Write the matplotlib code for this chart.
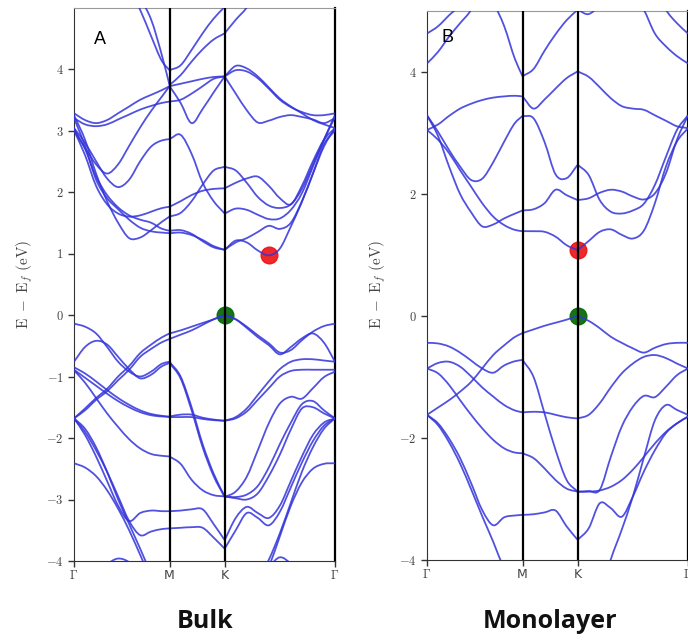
import numpy as np
import matplotlib
matplotlib.use("Agg")
import matplotlib.pyplot as plt
from matplotlib.path import Path
from matplotlib.patches import PathPatch

plt.rcParams["mathtext.fontset"] = "cm"

# k-path sampling along Gamma - M - K - Gamma (units of 2pi/a)
K_M = 0.866
K_K = 1.366
K_END = 2.366
k_path = [0.0, 0.1, 0.2, 0.3, 0.4, 0.5, 0.6, 0.7, 0.8, 0.866,
          0.966, 1.066, 1.166, 1.266, 1.366,
          1.466, 1.566, 1.666, 1.766, 1.866, 1.966, 2.066, 2.166, 2.266, 2.366]
k_ticks = [0.0, K_M, K_K, K_END]
k_labels = [r"$\Gamma$", "M", "K", r"$\Gamma$"]

# bulk bands (eV, relative to Ef)
bulk_conduction = [
    [6.0, 6.0, 6.0, 5.9, 5.6, 5.3, 4.96, 4.53, 4.12, 3.98,
     4.06, 4.31, 4.58, 4.82, 5.01,
     5.2, 5.5, 6.0, 6.0, 6.0, 6.0, 6.0, 6.0, 6.0, 6.0],
    [6.0, 6.0, 6.0, 5.9, 5.7, 5.45, 5.15, 4.80, 4.20, 3.74,
     3.90, 4.12, 4.32, 4.48, 4.58,
     4.80, 5.0, 5.3, 5.6, 6.0, 6.0, 6.0, 6.0, 6.0, 6.0],
    [3.28, 3.17, 3.12, 3.17, 3.28, 3.39, 3.50, 3.58, 3.66, 3.72,
     3.76, 3.80, 3.84, 3.87, 3.88,
     4.05, 4.01, 3.88, 3.70, 3.52, 3.39, 3.28, 3.17, 3.10, 3.04],
    [3.00, 2.72, 2.45, 2.30, 2.45, 2.75, 3.05, 3.32, 3.56, 3.72,
     3.45, 3.12, 3.35, 3.62, 3.88,
     3.60, 3.33, 3.13, 3.16, 3.22, 3.25, 3.22, 3.18, 3.12, 3.20],
    [3.20, 3.10, 3.07, 3.10, 3.18, 3.26, 3.34, 3.40, 3.45, 3.47,
     3.50, 3.60, 3.72, 3.84, 3.88,
     3.98, 3.96, 3.85, 3.68, 3.50, 3.38, 3.30, 3.25, 3.25, 3.28],
    [3.04, 2.80, 2.50, 2.22, 2.08, 2.20, 2.50, 2.74, 2.84, 2.86,
     2.93, 2.62, 2.15, 1.85, 1.65,
     1.73, 1.71, 1.63, 1.56, 1.57, 1.71, 1.98, 2.41, 2.85, 3.25],
    [3.25, 2.85, 2.30, 1.85, 1.50, 1.25, 1.26, 1.38, 1.52, 1.60,
     1.66, 1.85, 2.12, 2.35, 2.41,
     2.35, 2.15, 1.92, 1.78, 1.74, 1.80, 2.05, 2.45, 2.85, 3.22],
    [3.03, 2.70, 2.25, 1.95, 1.75, 1.62, 1.55, 1.50, 1.40, 1.37,
     1.38, 1.32, 1.20, 1.10, 1.06,
     1.21, 1.18, 1.05, 0.97, 1.08, 1.44, 1.84, 2.30, 2.74, 3.04],
    [3.00, 2.60, 2.10, 1.80, 1.65, 1.60, 1.62, 1.68, 1.74, 1.76,
     1.85, 1.95, 2.02, 2.05, 2.06,
     2.15, 2.22, 2.25, 2.10, 1.90, 1.80, 2.10, 2.50, 2.85, 3.04],
    [3.20, 2.75, 2.20, 1.90, 1.72, 1.55, 1.42, 1.36, 1.34, 1.33,
     1.34, 1.30, 1.22, 1.12, 1.06,
     1.18, 1.25, 1.35, 1.45, 1.40, 1.50, 1.85, 2.30, 2.78, 3.00],
]
bulk_valence = [
    [-0.14, -0.19, -0.30, -0.52, -0.76, -0.92, -1.00, -0.92, -0.79, -0.76,
     -1.00, -1.50, -2.10, -2.58, -2.95,
     -2.98, -3.00, -2.90, -2.62, -2.27, -1.86, -1.52, -1.50, -1.60, -1.68],
    [-0.76, -0.52, -0.42, -0.48, -0.68, -0.88, -1.03, -0.97, -0.83, -0.78,
     -1.03, -1.55, -2.15, -2.62, -2.96,
     -2.87, -2.63, -2.20, -1.76, -1.44, -1.33, -1.36, -1.19, -1.01, -0.92],
    [-1.68, -1.52, -1.35, -1.20, -1.00, -0.83, -0.62, -0.48, -0.36, -0.30,
     -0.25, -0.19, -0.13, -0.07, 0.0,
     -0.07, -0.19, -0.33, -0.46, -0.61, -0.57, -0.41, -0.27, -0.18, -0.14],
    [-1.68, -1.55, -1.38, -1.24, -1.06, -0.89, -0.68, -0.55, -0.44, -0.39,
     -0.32, -0.25, -0.16, -0.07, 0.0,
     -0.07, -0.21, -0.36, -0.49, -0.64, -0.52, -0.38, -0.30, -0.45, -0.76],
    [-0.89, -1.02, -1.15, -1.28, -1.40, -1.50, -1.58, -1.63, -1.65, -1.65,
     -1.62, -1.62, -1.67, -1.70, -1.72,
     -1.68, -1.57, -1.38, -1.19, -1.00, -0.91, -0.89, -0.89, -0.89, -0.89],
    [-0.85, -0.95, -1.08, -1.22, -1.35, -1.46, -1.55, -1.61, -1.64, -1.66,
     -1.66, -1.66, -1.69, -1.71, -1.72,
     -1.66, -1.52, -1.30, -1.08, -0.88, -0.76, -0.72, -0.72, -0.74, -0.76],
    [-0.90, -1.10, -1.35, -1.60, -1.82, -2.02, -2.17, -2.26, -2.29, -2.30,
     -2.42, -2.68, -2.85, -2.93, -2.95,
     -2.96, -2.92, -2.78, -2.48, -2.10, -1.75, -1.45, -1.40, -1.55, -1.68],
    [-1.68, -1.95, -2.30, -2.70, -3.10, -3.35, -3.22, -3.18, -3.19, -3.19,
     -3.18, -3.16, -3.16, -3.40, -3.66,
     -3.30, -3.12, -3.22, -3.30, -3.10, -2.70, -2.30, -1.95, -1.75, -1.68],
    [-1.68, -1.90, -2.20, -2.55, -2.95, -3.35, -3.58, -3.52, -3.48, -3.47,
     -3.46, -3.45, -3.46, -3.62, -3.80,
     -3.50, -3.22, -3.30, -3.42, -3.20, -2.80, -2.40, -2.05, -1.80, -1.68],
    [-2.41, -2.48, -2.62, -2.85, -3.15, -3.50, -3.90, -4.30, -4.60, -4.80,
     -5.0, -5.0, -5.0, -5.0, -5.0,
     -5.0, -4.8, -4.5, -4.1, -3.60, -3.10, -2.72, -2.50, -2.42, -2.41],
    [-1.68, -1.85, -2.15, -2.55, -3.00, -3.40, -3.80, -4.20, -4.50, -4.70,
     -5.0, -5.0, -5.0, -5.0, -5.0,
     -5.0, -4.6, -4.3, -3.98, -3.55, -3.05, -2.55, -2.15, -1.85, -1.68],
    [-4.6, -4.4, -4.2, -4.05, -3.96, -4.02, -4.2, -4.4, -4.6, -4.7,
     -4.8, -4.8, -4.8, -4.8, -4.8,
     -4.7, -4.5, -4.3, -4.1, -3.94, -4.05, -4.3, -4.5, -4.6, -4.6],
]

# monolayer bands (eV, relative to Ef)
mono_conduction = [
    [6.0, 6.0, 6.0, 6.0, 5.8, 5.5, 5.15, 4.75, 4.20, 3.93,
     4.05, 4.35, 4.62, 4.85, 5.02,
     4.95, 5.12, 5.5, 6.0, 6.0, 6.0, 6.0, 6.0, 6.0, 6.0],
    [4.14, 4.33, 4.58, 4.80, 5.02, 5.4, 5.7, 6.0, 6.0, 6.0,
     6.0, 6.0, 6.0, 6.0, 6.0,
     6.0, 6.0, 6.0, 6.0, 5.3, 5.02, 4.63, 4.42, 4.26, 4.14],
    [4.63, 4.75, 4.93, 5.1, 5.4, 5.8, 6.0, 6.0, 6.0, 6.0,
     6.0, 6.0, 6.0, 6.0, 6.0,
     6.0, 6.0, 6.0, 6.0, 6.0, 5.8, 5.4, 5.02, 4.80, 4.63],
    [3.05, 3.14, 3.28, 3.40, 3.48, 3.54, 3.58, 3.60, 3.61, 3.60,
     3.40, 3.55, 3.73, 3.90, 4.01,
     3.92, 3.75, 3.57, 3.44, 3.40, 3.38, 3.29, 3.20, 3.11, 3.08],
    [3.29, 3.02, 2.72, 2.45, 2.23, 2.25, 2.52, 2.86, 3.17, 3.28,
     3.24, 2.85, 2.32, 2.26, 2.48,
     2.31, 1.90, 1.71, 1.68, 1.73, 1.84, 2.15, 2.61, 3.05, 3.29],
    [3.29, 2.95, 2.45, 2.00, 1.70, 1.47, 1.50, 1.60, 1.68, 1.73,
     1.75, 1.85, 2.07, 1.98, 1.90,
     1.93, 2.02, 2.07, 2.04, 1.96, 1.91, 2.01, 2.34, 2.89, 3.29],
    [3.05, 2.89, 2.67, 2.39, 2.12, 1.85, 1.63, 1.49, 1.41, 1.39,
     1.39, 1.38, 1.30, 1.16, 1.08,
     1.23, 1.38, 1.42, 1.33, 1.27, 1.40, 1.85, 2.45, 2.86, 3.08],
]
mono_valence = [
    [-0.44, -0.45, -0.50, -0.60, -0.73, -0.86, -0.93, -0.81, -0.74, -0.72,
     -1.00, -1.60, -2.20, -2.69, -2.88,
     -2.87, -2.85, -2.31, -1.81, -1.49, -1.31, -1.33, -1.16, -0.97, -0.86],
    [-1.62, -1.50, -1.38, -1.24, -1.08, -0.86, -0.64, -0.48, -0.34, -0.28,
     -0.22, -0.16, -0.11, -0.06, 0.0,
     -0.08, -0.20, -0.34, -0.44, -0.53, -0.60, -0.52, -0.46, -0.44, -0.44],
    [-0.86, -0.77, -0.75, -0.83, -0.99, -1.17, -1.32, -1.46, -1.55, -1.58,
     -1.57, -1.58, -1.62, -1.66, -1.68,
     -1.62, -1.43, -1.17, -0.94, -0.78, -0.67, -0.64, -0.69, -0.78, -0.86],
    [-0.86, -0.94, -1.13, -1.38, -1.62, -1.84, -2.03, -2.17, -2.24, -2.25,
     -2.33, -2.50, -2.69, -2.83, -2.88,
     -2.88, -2.86, -2.80, -2.69, -2.52, -2.31, -2.09, -1.90, -1.76, -1.65],
    [-1.62, -1.76, -2.01, -2.33, -2.74, -3.18, -3.43, -3.30, -3.27, -3.26,
     -3.25, -3.22, -3.19, -3.45, -3.67,
     -3.48, -3.07, -3.15, -3.29, -2.96, -2.55, -2.20, -1.92, -1.76, -1.65],
    [-1.62, -1.79, -2.07, -2.42, -2.84, -3.28, -3.70, -4.15, -4.50, -4.70,
     -5.0, -5.0, -5.0, -5.0, -5.0,
     -5.0, -4.6, -3.99, -3.50, -2.96, -2.32, -1.71, -1.46, -1.54, -1.62],
]

BAND_COLOR = (0.2, 0.2, 0.86)


def band_path(k, e):
    """Cubic Hermite path through the sampled energies, one piece per
    high-symmetry segment so the kinks at M and K are kept."""
    k = np.asarray(k, dtype=float)
    e = np.asarray(e, dtype=float)
    i_m = k_path.index(K_M)
    i_k = k_path.index(K_K)
    verts = [(k[0], e[0])]
    codes = [Path.MOVETO]
    for lo, hi in ((0, i_m), (i_m, i_k), (i_k, len(k) - 1)):
        ks = k[lo:hi + 1]
        es = e[lo:hi + 1]
        slope = np.gradient(es, ks)
        for i in range(len(ks) - 1):
            h = ks[i + 1] - ks[i]
            verts += [(ks[i] + h / 3, es[i] + slope[i] * h / 3),
                      (ks[i + 1] - h / 3, es[i + 1] - slope[i + 1] * h / 3),
                      (ks[i + 1], es[i + 1])]
            codes += [Path.CURVE4] * 3
    return Path(verts, codes)


def draw_bands(ax, conduction, valence, yticks, cbm_k=None):
    k = np.array(k_path)
    for band in conduction + valence:
        ax.add_patch(PathPatch(band_path(k, band), fill=False, edgecolor=BAND_COLOR,
                               lw=1.3, alpha=0.85, zorder=3))

    # band edges: CBM from the lowest conduction band, VBM at K
    cond = np.array(conduction)
    if cbm_k is None:
        low = cond.min(axis=0)
        i = int(np.argmin(low))
        cbm = (k[i], low[i])
    else:
        i = k_path.index(cbm_k)
        cbm = (cbm_k, cond[:, i].min())
    vbm_i = k_path.index(K_K)
    vbm = (K_K, np.array(valence)[:, vbm_i].max())
    ax.plot(*cbm, "o", ms=12, color="#ee1111", alpha=0.9, zorder=2)
    ax.plot(*vbm, "o", ms=12, color="#0b6a0b", alpha=0.95, zorder=2)

    for kx in (K_M, K_K):
        ax.axvline(kx, color="black", lw=1.6, zorder=4)

    ax.set_xlim(0, K_END)
    ax.set_ylim(-4, 5)
    ax.set_xticks(k_ticks)
    ax.set_xticklabels(k_labels)
    ax.set_yticks(yticks)
    ax.set_yticklabels([r"$%d$" % v if v >= 0 else r"$-%d$" % -v for v in yticks])
    ax.tick_params(axis="both", direction="out", length=4, width=1,
                   labelsize=9, labelcolor="#444444", color="#333333")
    ax.tick_params(axis="x", pad=2)
    ax.spines["top"].set_color("#999999")
    ax.spines["left"].set_color("#333333")
    ax.spines["bottom"].set_color("#333333")
    ax.spines["right"].set_color("black")
    ax.spines["right"].set_linewidth(1.6)


fig = plt.figure(figsize=(6.88, 6.36), dpi=100)
ax_bulk = fig.add_axes([74 / 688, 1 - 561 / 636, 261 / 688, 553.5 / 636])
ax_mono = fig.add_axes([427 / 688, 1 - 560 / 636, 261 / 688, 549 / 636])

draw_bands(ax_bulk, bulk_conduction, bulk_valence, [-4, -3, -2, -1, 0, 1, 2, 3, 4])
draw_bands(ax_mono, mono_conduction, mono_valence, [-4, -2, 0, 2, 4], cbm_k=K_K)

ylabel = r"$\mathrm{E\ -\ E}_{f}\ \mathrm{(eV)}$"
fig.text(25 / 688, 1 - 285 / 636, ylabel, rotation=90, ha="center", va="center",
         fontsize=11, color="#444444")
fig.text(378 / 688, 1 - 285 / 636, ylabel, rotation=90, ha="center", va="center",
         fontsize=11, color="#444444")

fig.text(100 / 688, 1 - 40 / 636, "A", ha="center", va="center",
         fontsize=13, family="Liberation Sans", color="black")
fig.text(447 / 688, 1 - 38 / 636, "B", ha="center", va="center",
         fontsize=13, family="Liberation Sans", color="black")

fig.text(205 / 688, 1 - 621 / 636, "Bulk", ha="center", va="center",
         fontsize=18, family="Open Sans", weight="bold", color="#111111")
fig.text(550 / 688, 1 - 621 / 636, "Monolayer", ha="center", va="center",
         fontsize=18, family="Open Sans", weight="bold", color="#111111")

fig.savefig("out.png", dpi=100, facecolor="white")
